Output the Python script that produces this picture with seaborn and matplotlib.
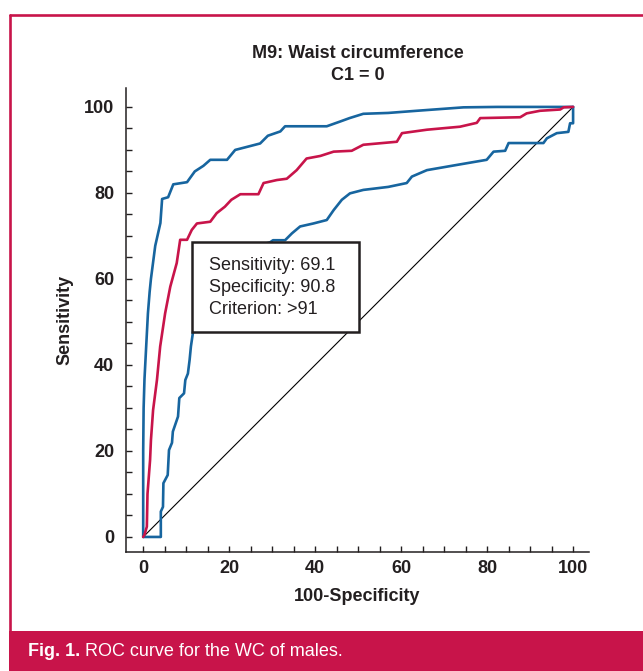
import matplotlib
matplotlib.use("Agg")
import matplotlib.pyplot as plt
from matplotlib import font_manager
from matplotlib.patches import Rectangle
from matplotlib.lines import Line2D
from matplotlib.ticker import MultipleLocator
import pandas as pd
import seaborn as sns

# Operating point reported for the chosen cut-off
sensitivity = 69.1
specificity = 90.8
criterion = ">91"

# ROC curve for waist circumference (100-specificity vs sensitivity)
roc_fpr = [0, 0.3, 0.85, 1.0, 1.6, 1.8, 2.3, 3.2, 3.95, 5.1, 6.3, 7.8, 8.6,
           100 - specificity, 10.2, 11.3, 12.5, 15.6, 17.1, 19.0, 20.5, 22.6,
           26.8, 28.0, 31.1, 33.4, 35.7, 38.0, 41.2, 44.3, 48.5, 51.2, 59.0,
           60.2, 66.0, 73.7, 77.6, 78.4, 87.7, 89.2, 92.3, 97.0, 97.8, 100]
roc_tpr = [0, 0.5, 2.4, 10.0, 17.9, 22.5, 29.5, 36.5, 44.3, 52.0, 58.2, 63.7,
           sensitivity, sensitivity, sensitivity, 71.4, 72.9, 73.3, 75.3,
           76.8, 78.4, 79.7, 79.7, 82.3, 83.0, 83.3, 85.3, 88.0, 88.6, 89.6,
           89.8, 91.2, 91.9, 93.9, 94.7, 95.4, 96.3, 97.4, 97.6, 98.5, 99.1,
           99.4, 99.9, 100]

# Upper 95% confidence bound
upper_fpr = [0, 0.0, 0.1, 0.3, 0.7, 1.1, 1.5, 1.8, 2.8, 4.0, 4.4, 5.8, 7.0,
             10.2, 10.7, 12.0, 14.0, 15.6, 19.5, 21.4, 24.5, 27.2, 29.0,
             31.9, 33.0, 42.7, 45.8, 48.0, 51.2, 57.0, 63.6, 74.5, 82.3, 100]
upper_tpr = [0, 20.0, 30.0, 36.7, 44.4, 52.0, 57.0, 60.0, 67.7, 73.0, 78.6,
             79.0, 82.0, 82.5, 83.2, 85.0, 86.3, 87.7, 87.7, 90.0, 90.8, 91.5,
             93.3, 94.3, 95.5, 95.5, 96.6, 97.4, 98.4, 98.6, 99.1, 99.9,
             100, 100]

# Lower 95% confidence bound
lower_fpr = [0, 4.1, 4.1, 4.6, 4.7, 5.7, 6.0, 6.7, 6.9, 8.1, 8.4, 9.5, 9.8,
             10.4, 10.8, 11.1, 11.6, 13.0, 15.0, 18.0, 22.0, 26.0, 29.5,
             30.2, 33.0, 34.6, 36.5, 39.6, 42.7, 44.3, 46.2, 48.1, 51.2,
             57.0, 61.3, 62.5, 66.0, 72.9, 79.9, 81.5, 84.2, 85.0, 93.1,
             93.9, 96.2, 98.9, 99.3, 100, 100]
lower_tpr = [0, 0, 5.9, 7.0, 12.5, 14.4, 20.2, 21.9, 24.5, 28.0, 32.3, 33.4,
             36.5, 38.0, 41.2, 44.3, 47.7, 52.0, 57.0, 62.0, 65.0, 67.5,
             68.5, 69.0, 69.0, 70.6, 72.2, 72.9, 73.7, 76.0, 78.4, 79.9,
             80.7, 81.4, 82.3, 83.8, 85.3, 86.5, 87.7, 89.6, 89.8, 91.6,
             91.6, 92.7, 93.9, 94.2, 96.2, 96.2, 100]

tick_values = [0, 20, 40, 60, 80, 100]

BLUE = "#17659F"
RED = "#C8144A"
INK = "#231F20"

curves = pd.concat([
    pd.DataFrame({"fpr": lower_fpr, "tpr": lower_tpr, "series": "lower"}),
    pd.DataFrame({"fpr": upper_fpr, "tpr": upper_tpr, "series": "upper"}),
    pd.DataFrame({"fpr": roc_fpr, "tpr": roc_tpr, "series": "roc"}),
], ignore_index=True)

sns.set_theme(style="white")
plt.rcParams["font.family"] = ["Liberation Sans", "DejaVu Sans"]
plt.rcParams["text.color"] = INK

available = {f.name for f in font_manager.fontManager.ttflist}
narrow = "Liberation Sans Narrow" in available
cap_family = ["Liberation Sans Narrow", "Liberation Sans"] if narrow else ["Liberation Sans"]
cap_size = 15 if narrow else 13

W, H, DPI = 643, 671, 100
fig = plt.figure(figsize=(W / DPI, H / DPI), dpi=DPI)
fig.patch.set_facecolor("white")
ax = fig.add_axes([126 / W, 1 - 552 / H, (589 - 126) / W, (552 - 88) / H])

# chance diagonal
ax.plot([0, 100], [0, 100], color="black", lw=0.8, zorder=1)

sns.lineplot(data=curves, x="fpr", y="tpr", hue="series",
             hue_order=["lower", "upper", "roc"],
             palette={"lower": BLUE, "upper": BLUE, "roc": RED},
             sort=False, estimator=None, legend=False, lw=1.9, ax=ax, zorder=3)

ax.set_xlim(-4, 103.7)
ax.set_ylim(-3.5, 104.4)
ax.set_xticks(tick_values)
ax.set_yticks(tick_values)
ax.xaxis.set_minor_locator(MultipleLocator(5))
ax.yaxis.set_minor_locator(MultipleLocator(5))
ax.tick_params(which="both", direction="in", length=4.5, width=1.0,
               color=INK, bottom=True, left=True, top=False, right=False)
ax.tick_params(axis="x", which="major", pad=6.0, labelsize=13, labelcolor=INK)
ax.tick_params(axis="y", which="major", pad=8.4, labelsize=13, labelcolor=INK)
plt.setp(ax.get_xticklabels() + ax.get_yticklabels(), fontweight="bold")

for side in ("top", "right"):
    ax.spines[side].set_visible(False)
for side in ("left", "bottom"):
    ax.spines[side].set_linewidth(1.1)
    ax.spines[side].set_color(INK)
ax.grid(False)

ax.set_xlabel("100-Specificity", fontsize=13, fontweight="bold", labelpad=7.5, color=INK)
ax.set_ylabel("Sensitivity", fontsize=13, fontweight="bold", labelpad=8, color=INK)
ax.set_title("M9: Waist circumference\nC1 = 0", fontsize=13, fontweight="bold",
             linespacing=1.45, pad=5.5, color=INK)

# cut-off summary box
box = Rectangle((11.4, 47.7), 38.8, 20.9, facecolor="white", edgecolor=INK,
                lw=1.8, zorder=5)
ax.add_patch(box)
ax.text(15.3, 58.1,
        f"Sensitivity: {sensitivity}\nSpecificity: {specificity}\nCriterion: {criterion}",
        ha="left", va="center", fontsize=13, linespacing=1.38, color=INK, zorder=6)

# figure frame and caption band
fig.add_artist(Line2D([10 / W, 10 / W], [1 - 631 / H, 1 - 14.7 / H],
                      color=RED, lw=1.9, transform=fig.transFigure))
fig.add_artist(Line2D([10 / W, 1], [1 - 14.7 / H, 1 - 14.7 / H],
                      color=RED, lw=1.9, transform=fig.transFigure))
fig.add_artist(Rectangle((9 / W, 0), 1 - 9 / W, 40 / H, facecolor=RED,
                         edgecolor="none", transform=fig.transFigure))

cap_y = 1 - 652 / H
cap1 = fig.text(28 / W, cap_y, "Fig. 1.", family=cap_family, fontsize=cap_size,
                fontweight="bold", color="white", va="center", ha="left")
fig.canvas.draw()
bb = cap1.get_window_extent()
fig.text(bb.x1 / W, cap_y, " ROC curve for the WC of males.", family=cap_family,
         fontsize=cap_size, color="white", va="center", ha="left")

fig.savefig("out.png", dpi=DPI)
